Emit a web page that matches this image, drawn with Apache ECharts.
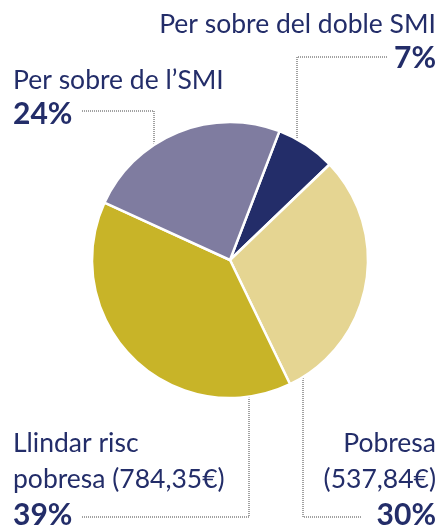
<!DOCTYPE html>
<html>
<head>
<meta charset="utf-8">
<script src="https://cdn.jsdelivr.net/npm/echarts@6/dist/echarts.min.js"></script>
<style>
  html, body { margin: 0; padding: 0; background: #fff; }
  #chart { width: 440px; height: 528px; }
</style>
</head>
<body>
<div id="chart"></div>
<script>
const categories = ['Per sobre del doble SMI', 'Pobresa\n(537,84€)', 'Llindar risc\npobresa (784,35€)', 'Per sobre de l’SMI'];
const values = [7, 30, 39, 24];
const colors = ['#232d69', '#e5d592', '#c8b428', '#7f7ca0'];

// label block placement and leader lines (layout only)
const labelSpots = [
  { x: 436, y: 7, align: 'right', lh: 34, line: [[297, 160], [297, 57], [388, 57]] },
  { x: 436, y: 425, align: 'right', lh: 36, line: [[303, 348], [303, 517], [362, 517]] },
  { x: 13, y: 425, align: 'left', lh: 36, line: [[249, 367], [249, 517], [82, 517]] },
  { x: 13, y: 63, align: 'left', lh: 34, line: [[154, 180], [154, 111], [82, 111]] },
];

const chart = echarts.init(document.getElementById('chart'));

chart.setOption({
  animation: false,
  series: [{
    type: 'pie',
    center: [230, 260],
    radius: 138,
    startAngle: 69,
    clockwise: true,
    itemStyle: { borderColor: '#fff', borderWidth: 2.5 },
    label: {
      show: true,
      overflow: 'none',
      formatter: (p) => p.name.split('\n').map((s) => `{n${p.dataIndex}|${s}}`).join('\n') + `\n{p${p.dataIndex}|${p.value}%}`,
      rich: labelSpots.reduce((acc, s, i) => {
        acc['n' + i] = { fontFamily: 'Lato', fontSize: 26.5, color: '#232d69', lineHeight: s.lh, align: s.align };
        acc['p' + i] = { fontFamily: 'Lato', fontSize: 30, fontWeight: 'bold', color: '#232d69', lineHeight: s.lh, align: s.align };
        return acc;
      }, {}),
    },
    labelLine: {
      show: true,
      lineStyle: { color: '#444', width: 1, type: [1, 1] },
    },
    labelLayout: (params) => {
      const s = labelSpots[params.dataIndex];
      return {
        x: s.x,
        y: s.y,
        width: 320,
        align: s.align,
        verticalAlign: 'top',
        labelLinePoints: s.line,
      };
    },
    data: categories.map((name, i) => ({
      name,
      value: values[i],
      itemStyle: { color: colors[i] },
    })),
  }],
});
</script>
</body>
</html>
